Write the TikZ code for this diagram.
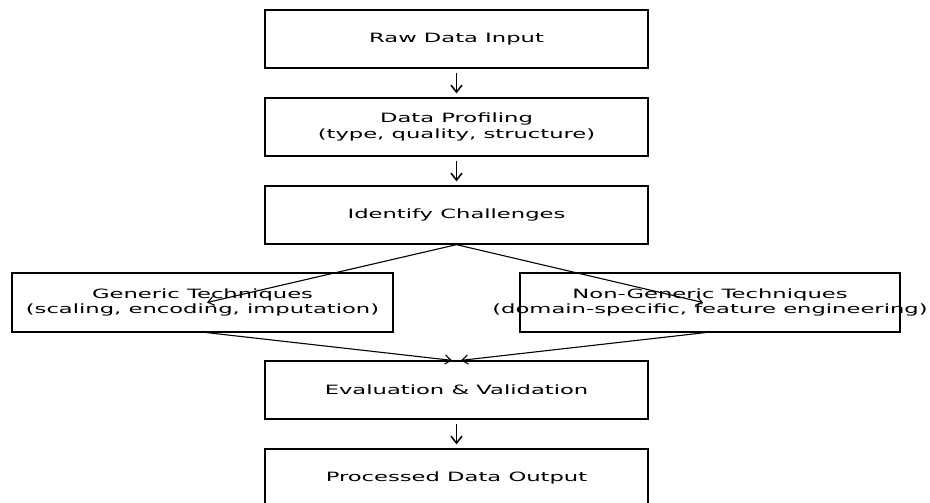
\documentclass[tikz,border=0pt]{standalone}
\usepackage{fontspec}
\newfontfamily\djv[FakeStretch=1.77]{DejaVu Sans}
\usetikzlibrary{arrows.meta}
\begin{document}
\begin{tikzpicture}[x=1pt,y=-1pt,
  box/.style={draw, line width=1.3pt, minimum width=383pt, minimum height=58pt, inner sep=0pt},
  sidebox/.style={box, minimum width=381pt, minimum height=59pt},
  lbl/.style={font=\djv\fontsize{12.8}{15.2}\selectfont, align=center, inner sep=0pt},
  arr/.style={-{Straight Barb[length=7pt,width=11pt]}, line width=1.5pt},
  darr/.style={-{Straight Barb[length=6pt,width=9pt]}, line width=1.1pt}]
\useasboundingbox (0,0) rectangle (930,503);
\node[box] (raw) at (456.5,39) {};
\node[box] (prof) at (456.5,127) {};
\node[box] (ident) at (456.5,215) {};
\node[sidebox] (gen) at (202.5,302.5) {};
\node[sidebox, minimum width=380pt] (ngen) at (710,302.5) {};
\node[box] (eval) at (456.5,390) {};
\node[box] (proc) at (456.5,478) {};

\node[lbl] (rawt) at (raw.center) {Raw Data Input};
\node[lbl] (proft) at (prof.center) {Data Profiling\\(type, quality, structure)};
\node[lbl] (identt) at (ident.center) {Identify Challenges};
\node[lbl] (gent) at (gen.center) {Generic Techniques\\(scaling, encoding, imputation)};
\node[lbl] (ngent) at (ngen.center) {Non-Generic Techniques\\(domain-specific, feature engineering)};
\node[lbl] (evalt) at (eval.center) {Evaluation \& Validation};
\node[lbl] (proct) at (proc.center) {Processed Data Output};

\draw[arr] ([yshift=-4pt]raw.south) -- ([yshift=4pt]prof.north);
\draw[arr] ([yshift=-4pt]prof.south) -- ([yshift=4pt]ident.north);
\draw[arr] ([yshift=-4pt]eval.south) -- ([yshift=4pt]proc.north);

\draw[darr] (ident.south) -- ([xshift=4.5pt]gen.center);
\draw[darr] (ident.south) -- ([xshift=-7pt]ngen.center);
\draw[darr] ([xshift=4.5pt]gen.south) -- ([xshift=-4.5pt]eval.north);
\draw[darr] ([xshift=-5pt]ngen.south) -- ([xshift=4.5pt]eval.north);
\end{tikzpicture}
\end{document}
